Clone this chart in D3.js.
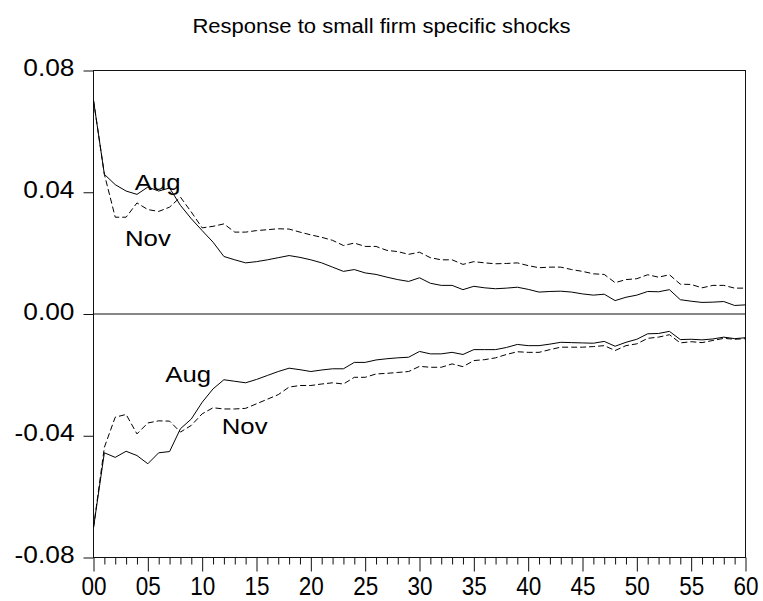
<!DOCTYPE html>
<html>
<head>
<meta charset="utf-8">
<script src="https://cdn.jsdelivr.net/npm/d3@7/dist/d3.min.js"></script>
<style>
    body { margin: 0; background: white; }
</style>
</head>
<body>
<script>
    var title = "Response to small firm specific shocks";
    var yTicks = [0.08, 0.04, 0.00, -0.04, -0.08];
    var steps = d3.range(0, 61);

    // upper panel
    var augUp = [0.0702, 0.0459, 0.0425, 0.0404, 0.0393, 0.0417, 0.0404, 0.0414, 0.0357, 0.0313,
                 0.0274, 0.0236, 0.0189, 0.0178, 0.0168, 0.0172, 0.0178, 0.0185, 0.0192, 0.0186,
                 0.0178, 0.0168, 0.0154, 0.0140, 0.0146, 0.0135, 0.0130, 0.0121, 0.0113, 0.0107,
                 0.0119, 0.0101, 0.0094, 0.0094, 0.0080, 0.0091, 0.0086, 0.0083, 0.0085, 0.0088,
                 0.0081, 0.0072, 0.0074, 0.0075, 0.0072, 0.0066, 0.0062, 0.0065, 0.0044, 0.0055,
                 0.0062, 0.0074, 0.0073, 0.0080, 0.0047, 0.0042, 0.0038, 0.0039, 0.0041, 0.0028,
                 0.0030];
    var novUp = [0.0702, 0.0459, 0.0318, 0.0318, 0.0365, 0.0343, 0.0337, 0.0351, 0.0384, 0.0335,
                 0.0283, 0.0288, 0.0296, 0.0269, 0.0269, 0.0274, 0.0277, 0.0280, 0.0279, 0.0269,
                 0.0260, 0.0252, 0.0242, 0.0225, 0.0233, 0.0222, 0.0222, 0.0209, 0.0205, 0.0196,
                 0.0203, 0.0185, 0.0178, 0.0178, 0.0163, 0.0172, 0.0168, 0.0165, 0.0166, 0.0168,
                 0.0159, 0.0152, 0.0154, 0.0154, 0.0146, 0.0140, 0.0132, 0.0130, 0.0103, 0.0113,
                 0.0116, 0.0129, 0.0121, 0.0129, 0.0098, 0.0097, 0.0086, 0.0094, 0.0094, 0.0085,
                 0.0085];

    // lower panel
    var augDown = [-0.0702, -0.0456, -0.0471, -0.0451, -0.0465, -0.0492, -0.0456, -0.0452, -0.0377, -0.0345,
                   -0.0290, -0.0246, -0.0216, -0.0221, -0.0226, -0.0215, -0.0202, -0.0189, -0.0178, -0.0183,
                   -0.0189, -0.0184, -0.0180, -0.0180, -0.0159, -0.0159, -0.0151, -0.0147, -0.0144, -0.0142,
                   -0.0123, -0.0131, -0.0131, -0.0126, -0.0133, -0.0117, -0.0117, -0.0117, -0.0110, -0.0100,
                   -0.0104, -0.0104, -0.0099, -0.0093, -0.0094, -0.0095, -0.0096, -0.0090, -0.0106, -0.0093,
                   -0.0083, -0.0065, -0.0064, -0.0057, -0.0084, -0.0083, -0.0085, -0.0082, -0.0076, -0.0081,
                   -0.0078];
    var novDown = [-0.0702, -0.0438, -0.0339, -0.0330, -0.0394, -0.0358, -0.0351, -0.0352, -0.0388, -0.0366,
                   -0.0328, -0.0308, -0.0312, -0.0312, -0.0310, -0.0295, -0.0280, -0.0265, -0.0240, -0.0235,
                   -0.0235, -0.0230, -0.0226, -0.0230, -0.0208, -0.0208, -0.0197, -0.0195, -0.0192, -0.0189,
                   -0.0172, -0.0175, -0.0175, -0.0164, -0.0173, -0.0153, -0.0150, -0.0144, -0.0133, -0.0124,
                   -0.0126, -0.0126, -0.0117, -0.0109, -0.0109, -0.0109, -0.0107, -0.0104, -0.0120, -0.0104,
                   -0.0098, -0.0080, -0.0076, -0.0068, -0.0095, -0.0091, -0.0094, -0.0087, -0.0080, -0.0083,
                   -0.0081];

    // series labels: text, step, value at baseline
    var labels = [
        { text: "Aug", step: 3.8, val: 0.0406 },
        { text: "Nov", step: 2.9, val: 0.0224 },
        { text: "Aug", step: 6.6, val: -0.0223 },
        { text: "Nov", step: 11.8, val: -0.0393 }
    ];

    var W = 763, H = 601;
    var padL = 93.5, padR = 745.5, padT = 70.5, padB = 557.5;
    var font = "Arial, 'Liberation Sans', sans-serif";
    var stretch = 1.12;

    var svg = d3.select("body")
                .append("svg")
                .attr("width", W)
                .attr("height", H);

    var xScale = d3.scaleLinear().domain([0, 60]).range([padL, padR]);
    var yScale = d3.scaleLinear().domain([-0.08, 0.08]).range([padB, padT]);

    var fmt = d3.formatLocale({ decimal: ".", thousands: ",", grouping: [3], currency: ["", ""], minus: "-" }).format(".2f");

    // title
    svg.append("text")
        .attr("transform", "translate(" + (W / 2) + ",33) scale(1.13,1)")
        .attr("text-anchor", "middle")
        .style("font-family", font)
        .style("font-size", "19.5px")
        .text(title);

    // y axis
    var yAxis = svg.append("g")
        .attr("transform", "translate(" + padL + ",0)")
        .call(d3.axisLeft(yScale).tickValues(yTicks).tickFormat(fmt).tickSize(10).tickSizeOuter(0));
    yAxis.select(".domain").remove();
    yAxis.selectAll("line").attr("stroke", "#111");
    yAxis.selectAll("text")
        .attr("x", -19 / stretch)
        .attr("y", 5)
        .attr("dy", 0)
        .attr("transform", "scale(" + stretch + ",1)")
        .attr("fill", "#000")
        .style("font-family", font)
        .style("font-size", "23.5px");

    // x axis
    var xAxis = svg.append("g")
        .attr("transform", "translate(0," + padB + ")")
        .call(d3.axisBottom(xScale).tickValues(steps).tickSizeOuter(0)
            .tickFormat(function(d) { return d % 5 == 0 ? d3.format("02d")(d) : ""; }));
    xAxis.select(".domain").remove();
    xAxis.selectAll("line")
        .attr("stroke", "#111")
        .attr("y2", function(d) { return d % 5 == 0 ? 14 : 7; });
    xAxis.selectAll("text")
        .attr("y", 37.5)
        .attr("dy", 0)
        .attr("transform", "scale(0.9,1)")
        .attr("fill", "#000")
        .style("font-family", font)
        .style("font-size", "25px");

    // frame
    svg.append("rect")
        .attr("x", padL)
        .attr("y", padT)
        .attr("width", padR - padL)
        .attr("height", padB - padT)
        .attr("fill", "none")
        .attr("stroke", "#111")
        .attr("stroke-width", 1);

    // zero line
    svg.append("line")
        .attr("x1", padL)
        .attr("x2", padR)
        .attr("y1", yScale(0))
        .attr("y2", yScale(0))
        .attr("stroke", "#111")
        .attr("stroke-width", 1);

    var line = d3.line()
        .x(function(d, i) { return xScale(steps[i]); })
        .y(function(d) { return yScale(d); });

    var series = [
        { vals: augUp, dash: null },
        { vals: novUp, dash: "6,3" },
        { vals: augDown, dash: null },
        { vals: novDown, dash: "6,3" }
    ];

    for (var j = 0; j < series.length; j++) {
        svg.append("path")
            .datum(series[j].vals)
            .attr("fill", "none")
            .attr("stroke", "#000")
            .attr("stroke-width", 1)
            .attr("stroke-dasharray", series[j].dash)
            .attr("d", line);
    }

    svg.selectAll(".lab")
        .data(labels)
        .enter()
        .append("text")
        .attr("class", "lab")
        .attr("transform", function(d) {
            return "translate(" + xScale(d.step) + "," + yScale(d.val) + ") scale(" + stretch + ",1)";
        })
        .style("font-family", font)
        .style("font-size", "23px")
        .text(function(d) { return d.text; });
</script>
</body>
</html>
